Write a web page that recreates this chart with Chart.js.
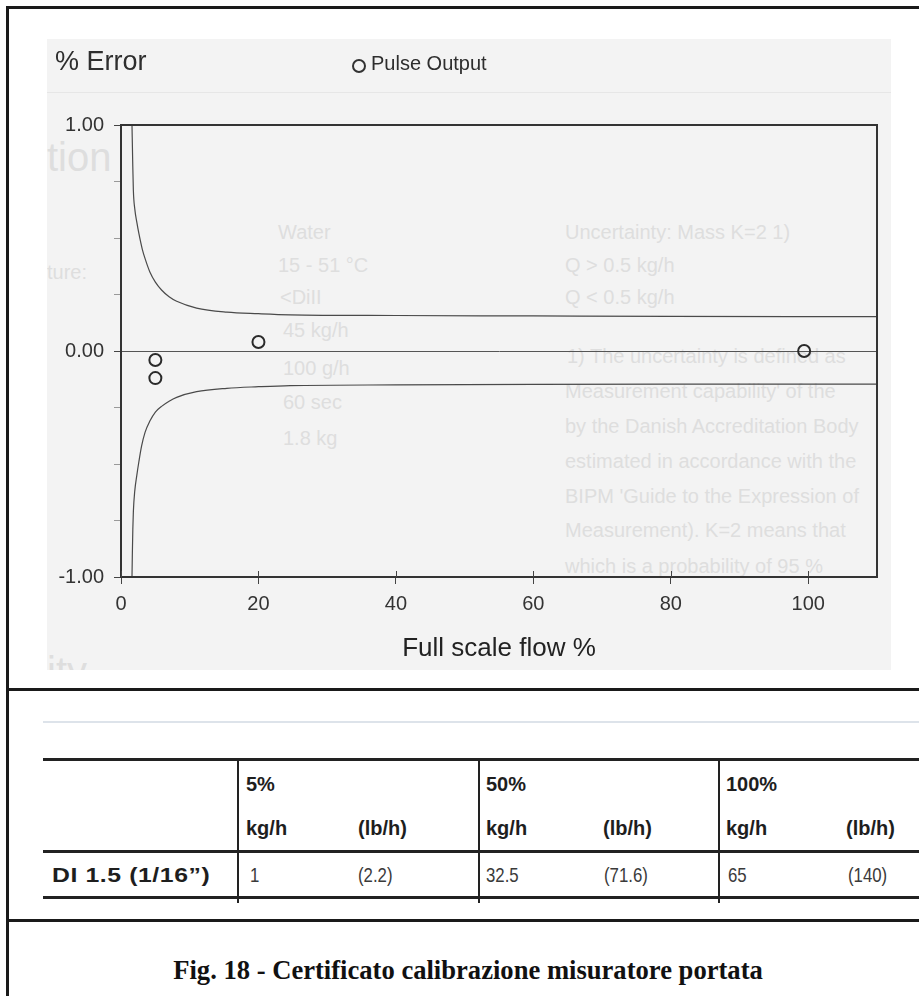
<!DOCTYPE html>
<html><head><meta charset="utf-8">
<script src="https://cdn.jsdelivr.net/npm/chart.js@4.4.1/dist/chart.umd.min.js"></script>
<style>
html,body{margin:0;padding:0;background:#fff;width:919px;height:996px;overflow:hidden;position:relative;font-family:"Liberation Sans",Arial,sans-serif}
.a{position:absolute;white-space:nowrap}
.line{position:absolute;background:#1a1a1a}
#scan{left:47px;top:39px;width:844px;height:631px;background:#f3f3f3;overflow:hidden}
#scan .g{position:absolute;white-space:nowrap;color:#dedede;font-size:20px;line-height:20px}
#cv{position:absolute;left:47px;top:39px}
.h{font-weight:bold;font-size:20px;line-height:20px;color:#1e1e1e}
.d{font-size:21px;line-height:21px;color:#3a3a3a;transform:scaleX(0.8);transform-origin:0 0}
</style></head>
<body>
<!-- page frame -->
<div class="line" style="left:6px;top:6px;width:3px;height:990px"></div>
<div class="line" style="left:6px;top:6px;width:913px;height:3px"></div>
<div class="line" style="left:6px;top:688px;width:913px;height:3px"></div>
<div class="line" style="left:6px;top:919px;width:913px;height:3px"></div>

<!-- scanned chart area -->
<div id="scan" class="a">
  <div class="a" style="left:0;top:53px;width:844px;height:1px;background:#e6e6e6"></div>
  <div class="g" style="left:0;top:98px;font-size:40px;line-height:40px">tion</div>
  <div class="g" style="left:0;top:223px">ture:</div>
  <div class="g" style="left:231px;top:183px">Water</div>
  <div class="g" style="left:231px;top:216px">15 - 51 °C</div>
  <div class="g" style="left:233px;top:248px">&lt;DiII</div>
  <div class="g" style="left:236px;top:281px">45 kg/h</div>
  <div class="g" style="left:236px;top:319px">100 g/h</div>
  <div class="g" style="left:236px;top:353px">60 sec</div>
  <div class="g" style="left:236px;top:389px">1.8 kg</div>
  <div class="g" style="left:518px;top:183px">Uncertainty: Mass K=2 1)</div>
  <div class="g" style="left:518px;top:216px">Q &gt; 0.5 kg/h</div>
  <div class="g" style="left:518px;top:248px">Q &lt; 0.5 kg/h</div>
  <div class="g" style="left:520px;top:307px">1)  The uncertainty is defined as</div>
  <div class="g" style="left:518px;top:342px">Measurement capability' of the</div>
  <div class="g" style="left:518px;top:377px">by the Danish Accreditation Body</div>
  <div class="g" style="left:518px;top:412px">estimated in accordance with the</div>
  <div class="g" style="left:518px;top:447px">BIPM 'Guide to the Expression of</div>
  <div class="g" style="left:518px;top:481px">Measurement). K=2 means that</div>
  <div class="g" style="left:518px;top:517px">which is a probability of 95 %</div>
  <div class="g" style="left:0;top:612px;font-size:40px;line-height:40px">ity</div>
</div>
<canvas id="cv" width="844" height="631"></canvas>
<div class="a" style="left:55px;top:48px;font-size:27px;line-height:27px;color:#2e2e2e">% Error</div>
<div class="a" style="left:352px;top:59px;width:10px;height:10px;border:2px solid #333;border-radius:50%"></div>
<div class="a" style="left:371px;top:53px;font-size:20px;line-height:20px;color:#2e2e2e">Pulse Output</div>

<!-- table -->
<div class="a" style="left:43px;top:721px;width:876px;height:2px;background:#dde3ea"></div>
<div class="line" style="left:43px;top:758px;width:876px;height:3px;background:#222"></div>
<div class="line" style="left:43px;top:850px;width:876px;height:3px;background:#222"></div>
<div class="line" style="left:43px;top:896px;width:876px;height:3px;background:#222"></div>
<div class="line" style="left:237px;top:759px;width:2px;height:144px;background:#222"></div>
<div class="line" style="left:478px;top:759px;width:2px;height:144px;background:#222"></div>
<div class="line" style="left:718px;top:759px;width:2px;height:144px;background:#222"></div>

<div class="a h" style="left:246px;top:774px">5%</div>
<div class="a h" style="left:486px;top:774px">50%</div>
<div class="a h" style="left:726px;top:774px">100%</div>
<div class="a h" style="left:246px;top:818px">kg/h</div>
<div class="a h" style="left:358px;top:818px">(lb/h)</div>
<div class="a h" style="left:486px;top:818px">kg/h</div>
<div class="a h" style="left:603px;top:818px">(lb/h)</div>
<div class="a h" style="left:726px;top:818px">kg/h</div>
<div class="a h" style="left:846px;top:818px">(lb/h)</div>
<div class="a h" style="left:52px;top:864px;font-size:21px;line-height:21px;letter-spacing:0.5px;transform:scaleX(1.18);transform-origin:0 0">DI 1.5 (1/16”)</div>
<div class="a d" style="left:250px;top:864px">1</div>
<div class="a d" style="left:358px;top:864px">(2.2)</div>
<div class="a d" style="left:486px;top:864px">32.5</div>
<div class="a d" style="left:604px;top:864px">(71.6)</div>
<div class="a d" style="left:728px;top:864px">65</div>
<div class="a d" style="left:848px;top:864px">(140)</div>

<div class="a" style="left:7px;top:957px;width:922px;text-align:center;font-family:'Liberation Serif','Times New Roman',serif;font-weight:bold;font-size:26.6px;line-height:26px;color:#111">Fig. 18 - Certificato calibrazione misuratore portata</div>

<script>
// ---- data ----
const pointFlow = [5, 5, 20, 99.4];
const pointError = [-0.04, -0.12, 0.04, 0.0];

const upperFlow = [1.6, 1.7, 1.8, 2.0, 2.3, 2.6, 3.1, 3.6, 4.2, 5.0, 5.9, 7.0, 8.1, 11, 15.4, 20, 24.6, 40, 60, 80, 110];
const upperError = [1.0, 0.84, 0.71, 0.63, 0.57, 0.52, 0.45, 0.40, 0.35, 0.305, 0.27, 0.24, 0.22, 0.19, 0.172, 0.165, 0.16, 0.157, 0.155, 0.153, 0.152];

const lowerFlow = [1.6, 1.65, 1.72, 1.8, 2.0, 2.3, 2.6, 3.0, 3.5, 4.2, 5.0, 5.9, 7.0, 8.1, 11, 15.4, 20, 24.6, 40, 60, 80, 110];
const lowerError = [-1.0, -0.9, -0.79, -0.71, -0.62, -0.55, -0.49, -0.42, -0.36, -0.31, -0.27, -0.245, -0.222, -0.205, -0.18, -0.165, -0.158, -0.153, -0.15, -0.148, -0.147, -0.147];

const xTickValues = [0, 20, 40, 60, 80, 100];
const yLabelValues = [-1, 0, 1];

const pts = (xs, ys) => xs.map((x, i) => ({x: x, y: ys[i]}));

const framePlugin = {
  id: 'frame',
  afterDatasetsDraw(chart) {
    const {ctx, chartArea: a, scales} = chart;
    ctx.save();
    ctx.strokeStyle = '#333';
    ctx.lineWidth = 2;
    ctx.strokeRect(a.left, a.top, a.right - a.left, a.bottom - a.top);
    // small upward tick marks on the x axis
    ctx.lineWidth = 1;
    ctx.strokeStyle = '#444';
    xTickValues.forEach(v => {
      const px = Math.round(scales.x.getPixelForValue(v)) + 0.5;
      ctx.beginPath(); ctx.moveTo(px, a.bottom); ctx.lineTo(px, a.bottom - 6); ctx.stroke();
    });
    ctx.restore();
  }
};

new Chart(document.getElementById('cv'), {
  type: 'scatter',
  data: {
    datasets: [
      {label: 'Pulse Output', data: pts(pointFlow, pointError), pointStyle: 'circle', pointRadius: 6,
       borderWidth: 2, borderColor: '#2a2a2a', backgroundColor: 'rgba(0,0,0,0)', showLine: false},
      {label: 'upper', data: pts(upperFlow, upperError), showLine: true, pointRadius: 0,
       borderColor: '#4a4a4a', borderWidth: 1.2, cubicInterpolationMode: 'monotone', fill: false},
      {label: 'lower', data: pts(lowerFlow, lowerError), showLine: true, pointRadius: 0,
       borderColor: '#4a4a4a', borderWidth: 1.2, cubicInterpolationMode: 'monotone', fill: false}
    ]
  },
  options: {
    responsive: false,
    animation: false,
    devicePixelRatio: 1,
    layout: {padding: {top: 86, right: 14, left: 0, bottom: 0}},
    plugins: {legend: {display: false}, tooltip: {enabled: false}},
    scales: {
      x: {
        type: 'linear', min: 0, max: 110,
        afterFit: s => { s.height = 93; },
        afterBuildTicks: s => { s.ticks = xTickValues.map(v => ({value: v})); },
        ticks: {font: {family: 'Liberation Sans', size: 20}, color: '#333', padding: 8, maxRotation: 0},
        grid: {drawOnChartArea: false, tickLength: 7, tickColor: '#444', tickWidth: 1},
        border: {display: true, color: '#333', width: 2},
        title: {display: true, text: 'Full scale flow %', font: {family: 'Liberation Sans', size: 26},
                color: '#222', padding: {top: 0, bottom: 6}}
      },
      y: {
        type: 'linear', min: -1, max: 1,
        afterFit: s => { s.width = 74; },
        ticks: {stepSize: 0.25, font: {family: 'Liberation Sans', size: 20}, color: '#333', padding: 10,
                callback: v => yLabelValues.includes(v) ? v.toFixed(2) : ''},
        grid: {
          color: c => (c.tick && c.tick.value === 0) ? '#555' : 'rgba(0,0,0,0)',
          lineWidth: 1,
          tickColor: c => (c.tick && yLabelValues.includes(c.tick.value)) ? '#444' : '#999',
          tickLength: 7
        },
        border: {display: true, color: '#333', width: 2}
      }
    }
  },
  plugins: [framePlugin]
});
</script>
</body></html>
